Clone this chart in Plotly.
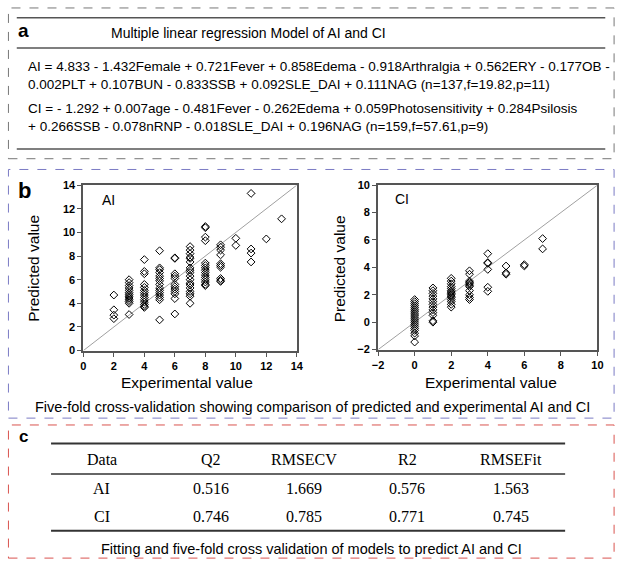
import plotly.graph_objects as go

W, H = 625, 569

# ---- panel a: model equations ----
title_a = "Multiple linear regression Model of AI and CI"
eq_lines = [
    "AI = 4.833 - 1.432Female + 0.721Fever + 0.858Edema - 0.918Arthralgia + 0.562ERY - 0.177OB -",
    "0.002PLT + 0.107BUN - 0.833SSB + 0.092SLE_DAI + 0.111NAG (n=137,f=19.82,p=11)",
    "CI = - 1.292 + 0.007age - 0.481Fever - 0.262Edema + 0.059Photosensitivity + 0.284Psilosis",
    "+ 0.266SSB - 0.078nRNP - 0.018SLE_DAI + 0.196NAG (n=159,f=57.61,p=9)",
]

# ---- panel b: five-fold CV, experimental vs predicted ----
ai_exp = ([2] * 4 + [3] * 13 + [4] * 14 + [5] * 15 + [6] * 12 + [7] * 18
          + [8] * 15 + [9] * 10 + [10] * 2 + [11] * 4 + [12, 13])
ai_pred = [4.7, 3.45, 3.0, 2.7,
           6.0, 5.75, 5.5, 5.3, 5.1, 4.9, 4.75, 4.6, 4.45, 4.3, 4.15, 4.0, 3.05,
           7.7, 6.7, 6.5, 5.6, 5.35, 5.1, 4.9, 4.7, 4.5, 4.3, 4.1, 3.9, 3.75, 3.65,
           8.45, 7.0, 6.85, 6.6, 6.3, 6.1, 5.9, 5.6, 5.3, 5.1, 4.9, 4.7, 4.5, 4.3, 2.6,
           7.85, 7.8, 6.5, 6.3, 6.1, 5.6, 5.4, 5.2, 5.0, 4.8, 4.4, 3.1,
           8.8, 8.5, 8.2, 7.9, 7.8, 7.5, 7.0, 6.8, 6.6, 6.3, 6.0, 5.7, 5.55, 5.3, 5.0, 4.8, 4.6, 4.0,
           10.5, 10.4, 9.6, 9.3, 7.4, 7.2, 7.0, 6.8, 6.6, 6.4, 6.2, 6.0, 5.8, 5.6, 5.5,
           8.95, 8.75, 8.5, 8.1, 7.35, 7.2, 7.05, 6.1, 5.95, 5.85,
           9.5, 8.9,
           13.3, 8.6, 8.25, 7.5,
           9.45, 11.15]

ci_exp = [0] * 19 + [1] * 13 + [2] * 15 + [3] * 11 + [4] * 6 + [5] * 3 + [6] * 2 + [7] * 2
ci_pred = [1.65, 1.5, 1.35, 1.2, 1.05, 0.9, 0.75, 0.6, 0.45, 0.3, 0.15, 0.0, -0.15, -0.3,
           -0.45, -0.6, -0.8, -1.0, -1.45,
           2.5, 2.3, 2.1, 1.9, 1.7, 1.5, 1.3, 1.1, 0.9, 0.7, 0.5, 0.1, 0.0,
           3.2, 3.0, 2.8, 2.6, 2.45, 2.3, 2.2, 2.1, 2.0, 1.9, 1.8, 1.65, 1.5, 1.3, 1.1,
           3.75, 3.5, 3.0, 2.9, 2.8, 2.7, 2.6, 2.3, 2.0, 1.8, 1.65,
           5.0, 4.35, 4.3, 3.85, 2.55, 2.25,
           4.1, 3.6, 3.5,
           4.2, 4.1,
           6.1, 5.35]

ai_range = [0, 14]
ci_range = [-2, 10]
ai_ticks = [0, 2, 4, 6, 8, 10, 12, 14]
ci_ticks = [-2, 0, 2, 4, 6, 8, 10]
caption_b = "Five-fold cross-validation showing comparison of predicted and experimental AI and CI"

# ---- panel c: table ----
table_header = ["Data", "Q2", "RMSECV", "R2", "RMSEFit"]
table_rows = [
    ["AI", "0.516", "1.669", "0.576", "1.563"],
    ["CI", "0.746", "0.785", "0.771", "0.745"],
]
caption_c = "Fitting and five-fold cross validation of models to predict AI and CI"


def px(x):
    return x / W


def py(y):
    return 1 - y / H


SANS = "Liberation Sans, Arial, sans-serif"
SERIF = "Liberation Serif, Times New Roman, serif"

fig = go.Figure()

diamond = dict(symbol="diamond-open", size=6, color="black", line=dict(width=1, color="black"))
fig.add_trace(go.Scatter(x=ai_range, y=ai_range, mode="lines",
                         line=dict(color="#a0a0a0", width=1), xaxis="x", yaxis="y", hoverinfo="skip"))
fig.add_trace(go.Scatter(x=ai_exp, y=ai_pred, mode="markers", marker=diamond, xaxis="x", yaxis="y"))
fig.add_trace(go.Scatter(x=ci_range, y=ci_range, mode="lines",
                         line=dict(color="#a0a0a0", width=1), xaxis="x2", yaxis="y2", hoverinfo="skip"))
fig.add_trace(go.Scatter(x=ci_exp, y=ci_pred, mode="markers", marker=diamond, xaxis="x2", yaxis="y2"))

axis_style = dict(showline=True, mirror=True, linecolor="#555555", linewidth=2, showgrid=False,
                  zeroline=False, ticks="outside", ticklen=4, tickwidth=1, tickcolor="#555555",
                  tickfont=dict(family=SANS, size=11, color="black", weight="bold"))

fig.update_layout(
    width=W, height=H, margin=dict(l=0, r=0, t=0, b=0),
    paper_bgcolor="white", plot_bgcolor="white", showlegend=False,
    xaxis=dict(domain=[px(79), px(297)], range=ai_range, tickvals=ai_ticks, anchor="y", **axis_style),
    yaxis=dict(domain=[py(352), py(183)], range=ai_range, tickvals=ai_ticks, anchor="x", **axis_style),
    xaxis2=dict(domain=[px(380), px(604)], range=ci_range, tickvals=ci_ticks, anchor="y2", **axis_style),
    yaxis2=dict(domain=[py(351), py(183)], range=ci_range, tickvals=ci_ticks, anchor="x2", **axis_style),
)

shapes = []
# dashed panel frames
for (y0, y1, col) in [(2, 156, "#777777"), (167, 421, "#7b7bc4"), (428, 564, "#d9534f")]:
    shapes.append(dict(type="rect", xref="paper", yref="paper", x0=px(2.5), x1=px(621),
                       y0=py(y1), y1=py(y0), line=dict(color=col, width=1, dash="dash")))
# panel a rules
for y in [12, 43, 146]:
    shapes.append(dict(type="line", xref="paper", yref="paper", x0=px(11), x1=px(612),
                       y0=py(y), y1=py(y), line=dict(color="#555555", width=1.5)))
# table rules
for y, wd in [(447, 2), (478, 1.5), (536, 2)]:
    shapes.append(dict(type="line", xref="paper", yref="paper", x0=px(46), x1=px(571),
                       y0=py(y), y1=py(y), line=dict(color="#333333", width=wd)))

ann = []


def text(x, y, s, size, family=SANS, anchor="center", weight="normal", angle=0):
    ann.append(dict(x=px(x), y=py(y), xref="paper", yref="paper", text=s, showarrow=False,
                    xanchor=anchor, yanchor="middle", textangle=angle, borderpad=0,
                    font=dict(family=family, size=size, color="black", weight=weight)))


text(11, 25, "a", 19, anchor="left", weight="bold")
text(248, 28, title_a, 14)
for s, y in zip(eq_lines, [62, 80, 105, 123]):
    text(21, y, s, 13.5, anchor="left")

text(11, 188, "b", 22, anchor="left", weight="bold")
text(97, 198, "AI", 14, anchor="left")
text(396, 197, "CI", 14, anchor="left")
text(185, 385, "Experimental value", 15.5)
text(495, 385, "Experimental value", 15.5)
text(28, 268, "Predicted value", 15.5, angle=-90)
text(340, 268, "Predicted value", 15.5, angle=-90)
text(313, 410, caption_b, 14.5)

text(12, 440, "c", 17, anchor="left", weight="bold")
col_x = [98, 209, 304, 410, 516]
for cx, h in zip(col_x, table_header):
    text(cx, 463, h, 16, family=SERIF)
for row, y in zip(table_rows, [493, 522]):
    for cx, v in zip(col_x, row):
        text(cx, y, v, 16, family=SERIF)
text(312, 555, caption_c, 14.5)

fig.update_layout(shapes=shapes, annotations=ann)
fig.write_html("out.html", config={"displayModeBar": False},
               post_script="document.body.style.margin='0';document.body.style.overflow='hidden';")
